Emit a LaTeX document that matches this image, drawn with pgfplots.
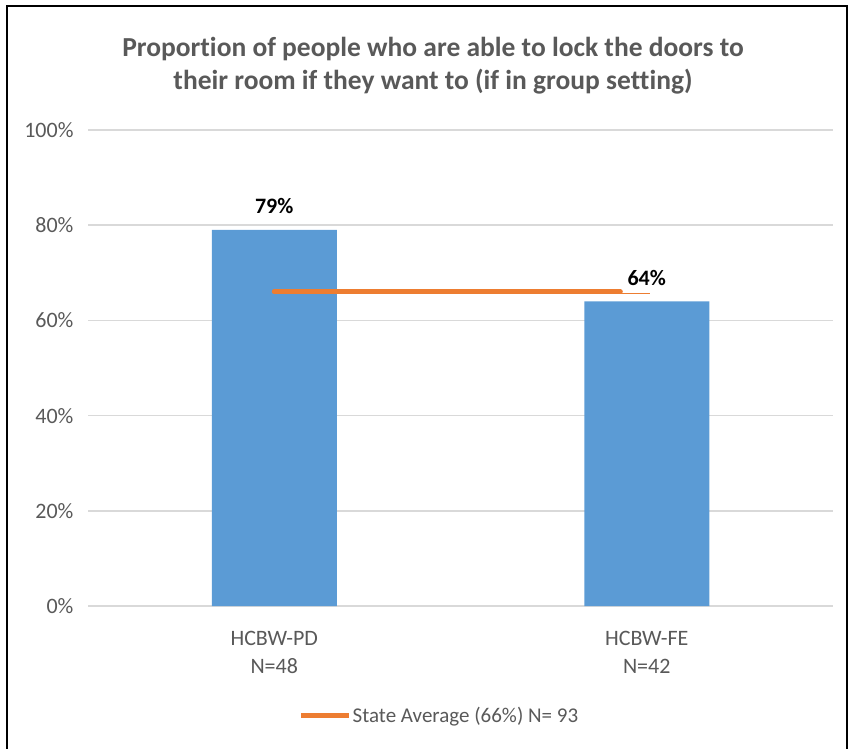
\documentclass[border=0pt]{standalone}
\usepackage{fontspec}
\setmainfont{Carlito}[Ligatures={NoCommon}]
\usepackage{pgfplots}
\pgfplotsset{compat=1.18}
\definecolor{barblue}{HTML}{5B9BD5}
\definecolor{orng}{HTML}{ED7D31}
\definecolor{txt}{HTML}{595959}
\definecolor{grd}{HTML}{D9D9D9}
\begin{document}
\begin{tikzpicture}
\useasboundingbox (0pt,0pt) rectangle (850pt,-748pt);
\draw[line width=2.5pt] (7pt,-790pt) -- (7pt,-6pt) -- (847pt,-6pt) -- (847pt,-790pt);
\node[anchor=base, font=\fontsize{27.5}{32}\selectfont\bfseries, text=txt] at (433pt,-56pt) {Proportion of people who are able to lock the doors to};
\node[anchor=base, font=\fontsize{27.5}{32}\selectfont\bfseries, text=txt] at (433pt,-89pt) {their room if they want to (if in group setting)};
\begin{axis}[
  at={(88pt,-606pt)}, anchor=south west,
  scale only axis, width=745pt, height=476pt,
  xmin=-0.5, xmax=1.5, ymin=0, ymax=100,
  /pgf/number format/assume math mode=true,
  ytick={0,20,40,60,80,100},
  yticklabel={\pgfmathprintnumber{\tick}\%},
  yticklabel style={font=\fontsize{22}{26}\selectfont, text=txt, anchor=east, xshift=-11pt},
  xtick={0,1},
  xticklabels={{HCBW-PD\\[2pt]N=48},{HCBW-FE\\[2pt]N=42}},
  xticklabel style={font=\fontsize{22}{26}\selectfont, text=txt, align=center, yshift=-22pt},
  axis line style={draw=none},
  major tick length=0pt,
  ymajorgrids, grid style={grd, line width=1.5pt},
  clip=false,
  legend style={at={(0.471,-0.231)}, anchor=center, draw=none, fill=none,
    font=\fontsize{21}{25}\selectfont, text=txt, inner sep=0pt,
    nodes={inner sep=1pt}},
  legend image code/.code={\draw[orng, line width=5pt, line cap=butt] (0pt,0pt) -- (48pt,0pt);},
]
\addplot[ybar, bar width=125pt, fill=barblue, draw=none,
  nodes near coords={\pgfmathprintnumber{\pgfplotspointmeta}\%},
  nodes near coords style={font=\fontsize{22}{26}\selectfont\bfseries, text=black, anchor=base, yshift=16pt},
  forget plot] coordinates {(0,79) (1,64)};
\addplot[orng, line width=5pt, line cap=round] coordinates {(0,66) (0.929,66)};
\addlegendentry{State Average (66\%) N= 93}
\addplot[orng, line width=1.2pt, forget plot] coordinates {(0.929,65.6) (1.01,65.6)};
\end{axis}
\end{tikzpicture}
\end{document}
